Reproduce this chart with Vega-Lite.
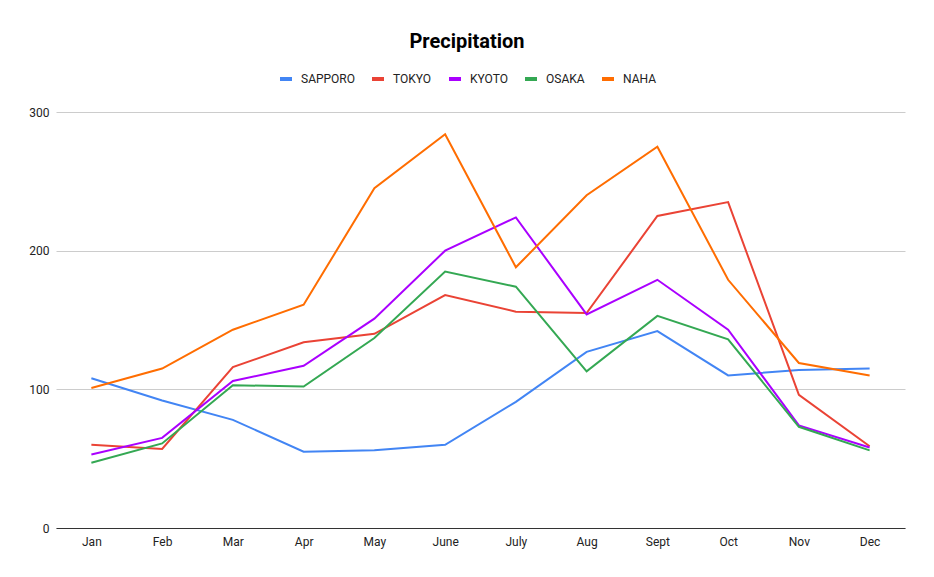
{
  "$schema": "https://vega.github.io/schema/vega-lite/v6.json",
  "autosize": "none",
  "width": 849,
  "height": 416,
  "padding": {"left": 56, "top": 112, "right": 29, "bottom": 49},
  "background": "white",
  "config": {"view": {"stroke": null}},
  "title": {
    "text": "Precipitation",
    "anchor": "middle",
    "frame": "group",
    "font": "Roboto",
    "fontSize": 20,
    "fontWeight": "bold",
    "color": "#000000",
    "offset": 19,
    "dx": -13.5
  },
  "data": {
    "values": [
      {"month": "Jan", "city": "SAPPORO", "value": 108},
      {"month": "Feb", "city": "SAPPORO", "value": 92},
      {"month": "Mar", "city": "SAPPORO", "value": 78},
      {"month": "Apr", "city": "SAPPORO", "value": 55},
      {"month": "May", "city": "SAPPORO", "value": 56},
      {"month": "June", "city": "SAPPORO", "value": 60},
      {"month": "July", "city": "SAPPORO", "value": 91},
      {"month": "Aug", "city": "SAPPORO", "value": 127},
      {"month": "Sept", "city": "SAPPORO", "value": 142},
      {"month": "Oct", "city": "SAPPORO", "value": 110},
      {"month": "Nov", "city": "SAPPORO", "value": 114},
      {"month": "Dec", "city": "SAPPORO", "value": 115},
      {"month": "Jan", "city": "TOKYO", "value": 60},
      {"month": "Feb", "city": "TOKYO", "value": 57},
      {"month": "Mar", "city": "TOKYO", "value": 116},
      {"month": "Apr", "city": "TOKYO", "value": 134},
      {"month": "May", "city": "TOKYO", "value": 140},
      {"month": "June", "city": "TOKYO", "value": 168},
      {"month": "July", "city": "TOKYO", "value": 156},
      {"month": "Aug", "city": "TOKYO", "value": 155},
      {"month": "Sept", "city": "TOKYO", "value": 225},
      {"month": "Oct", "city": "TOKYO", "value": 235},
      {"month": "Nov", "city": "TOKYO", "value": 96},
      {"month": "Dec", "city": "TOKYO", "value": 59},
      {"month": "Jan", "city": "KYOTO", "value": 53},
      {"month": "Feb", "city": "KYOTO", "value": 65},
      {"month": "Mar", "city": "KYOTO", "value": 106},
      {"month": "Apr", "city": "KYOTO", "value": 117},
      {"month": "May", "city": "KYOTO", "value": 151},
      {"month": "June", "city": "KYOTO", "value": 200},
      {"month": "July", "city": "KYOTO", "value": 224},
      {"month": "Aug", "city": "KYOTO", "value": 154},
      {"month": "Sept", "city": "KYOTO", "value": 179},
      {"month": "Oct", "city": "KYOTO", "value": 143},
      {"month": "Nov", "city": "KYOTO", "value": 74},
      {"month": "Dec", "city": "KYOTO", "value": 58},
      {"month": "Jan", "city": "OSAKA", "value": 47},
      {"month": "Feb", "city": "OSAKA", "value": 61},
      {"month": "Mar", "city": "OSAKA", "value": 103},
      {"month": "Apr", "city": "OSAKA", "value": 102},
      {"month": "May", "city": "OSAKA", "value": 137},
      {"month": "June", "city": "OSAKA", "value": 185},
      {"month": "July", "city": "OSAKA", "value": 174},
      {"month": "Aug", "city": "OSAKA", "value": 113},
      {"month": "Sept", "city": "OSAKA", "value": 153},
      {"month": "Oct", "city": "OSAKA", "value": 136},
      {"month": "Nov", "city": "OSAKA", "value": 73},
      {"month": "Dec", "city": "OSAKA", "value": 56},
      {"month": "Jan", "city": "NAHA", "value": 101},
      {"month": "Feb", "city": "NAHA", "value": 115},
      {"month": "Mar", "city": "NAHA", "value": 143},
      {"month": "Apr", "city": "NAHA", "value": 161},
      {"month": "May", "city": "NAHA", "value": 245},
      {"month": "June", "city": "NAHA", "value": 284},
      {"month": "July", "city": "NAHA", "value": 188},
      {"month": "Aug", "city": "NAHA", "value": 240},
      {"month": "Sept", "city": "NAHA", "value": 275},
      {"month": "Oct", "city": "NAHA", "value": 179},
      {"month": "Nov", "city": "NAHA", "value": 119},
      {"month": "Dec", "city": "NAHA", "value": 110}
    ]
  },
  "mark": {"type": "line", "strokeWidth": 2, "interpolate": "linear"},
  "encoding": {
    "x": {
      "field": "month",
      "type": "ordinal",
      "sort": ["Jan", "Feb", "Mar", "Apr", "May", "June", "July", "Aug", "Sept", "Oct", "Nov", "Dec"],
      "scale": {"type": "point", "padding": 0.5},
      "axis": {
        "title": null,
        "labelAngle": 0,
        "labelFont": "Roboto",
        "labelFontSize": 12,
        "labelColor": "#222222",
        "labelPadding": 8,
        "ticks": false,
        "grid": false,
        "domainColor": "#333333",
        "domainWidth": 1
      }
    },
    "y": {
      "field": "value",
      "type": "quantitative",
      "scale": {"domain": [0, 300], "nice": false},
      "axis": {
        "title": null,
        "values": [0, 100, 200, 300],
        "labelFont": "Roboto",
        "labelFontSize": 12,
        "labelColor": "#222222",
        "labelPadding": 7,
        "ticks": false,
        "domain": false,
        "gridColor": "#cccccc",
        "gridWidth": 1
      }
    },
    "color": {
      "field": "city",
      "type": "nominal",
      "sort": ["SAPPORO", "TOKYO", "KYOTO", "OSAKA", "NAHA"],
      "scale": {
        "domain": ["SAPPORO", "TOKYO", "KYOTO", "OSAKA", "NAHA"],
        "range": ["#4285F4", "#EA4335", "#AA00FF", "#34A853", "#FF6D01"]
      },
      "legend": {
        "title": null,
        "orient": "none",
        "direction": "horizontal",
        "legendX": 222,
        "legendY": -41,
        "symbolType": "stroke",
        "symbolSize": 144,
        "symbolStrokeWidth": 4,
        "labelFont": "Roboto",
        "labelFontSize": 12,
        "labelColor": "#222222",
        "labelOffset": 7,
        "columnPadding": 9
      }
    }
  }
}
